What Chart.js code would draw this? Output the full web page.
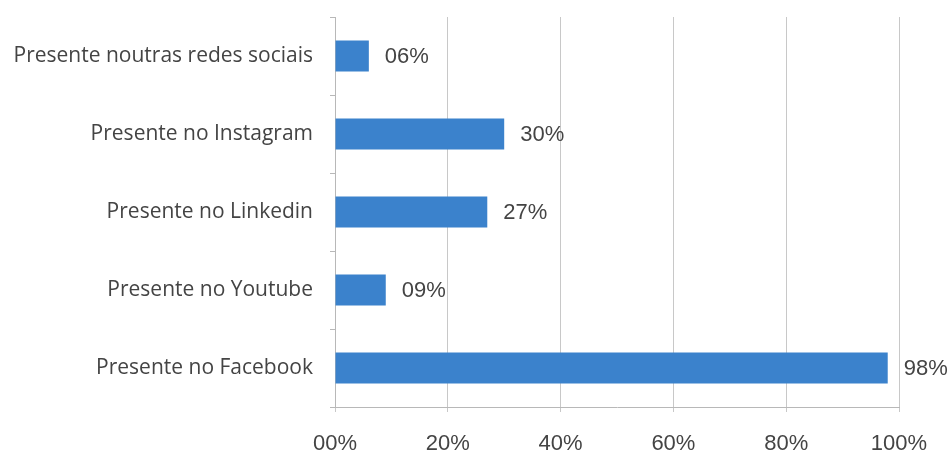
<!DOCTYPE html>
<html lang="pt">
<head>
<meta charset="UTF-8">
<title>Presença nas redes sociais</title>
<script src="https://cdn.jsdelivr.net/npm/chart.js"></script>
<style>
    body { margin: 0; background: #ffffff; }
    .wrap { width: 952px; height: 454px; position: relative; }
</style>
</head>
<body>
<div class="wrap"><canvas id="redesChart"></canvas></div>
<script>
// Dados (de cima para baixo)
const categorias = ["Presente noutras redes sociais", "Presente no Instagram", "Presente no Linkedin", "Presente no Youtube", "Presente no Facebook"];
const percentagens = [6, 30, 27, 9, 98];
const ticksX = [0, 20, 40, 60, 80, 100];

function fmtPct(v) {
    return (v < 10 ? '0' + v : '' + v) + '%';
}

// escreve o valor ao lado de cada barra
const rotulosBarras = {
    id: 'rotulosBarras',
    afterDatasetsDraw(chart) {
        const ctx = chart.ctx;
        const meta = chart.getDatasetMeta(0);
        ctx.save();
        ctx.font = '22px "Liberation Sans", Arial, sans-serif';
        ctx.fillStyle = '#444444';
        ctx.textAlign = 'left';
        ctx.textBaseline = 'middle';
        meta.data.forEach((bar, i) => {
            ctx.fillText(fmtPct(percentagens[i]), bar.x + 16, bar.y + 1);
        });
        ctx.restore();
    }
};

const ctx = document.getElementById('redesChart').getContext('2d');
new Chart(ctx, {
    type: 'bar',
    data: {
        labels: categorias,
        datasets: [{
            data: percentagens,
            backgroundColor: '#3b82cc',
            borderWidth: 0,
            categoryPercentage: 1,
            barPercentage: 0.4
        }]
    },
    options: {
        indexAxis: 'y',
        responsive: true,
        maintainAspectRatio: false,
        animation: false,
        layout: { padding: { top: 17, right: 53, bottom: 0, left: 0 } },
        plugins: {
            legend: { display: false },
            tooltip: { enabled: false }
        },
        scales: {
            x: {
                min: 0,
                max: 100,
                afterBuildTicks: (scale) => { scale.ticks = ticksX.map(v => ({ value: v })); },
                afterFit: (scale) => { scale.height = 47; },
                ticks: {
                    callback: (v) => fmtPct(v),
                    color: '#444444',
                    padding: 19,
                    font: { family: '"Liberation Sans", Arial, sans-serif', size: 22 }
                },
                grid: {
                    color: '#c8c8c8',
                    lineWidth: 1,
                    tickLength: 5
                },
                border: { color: '#b8b8b8' }
            },
            y: {
                afterFit: (scale) => {
                    scale.width = 335;
                    scale.paddingTop = 0;
                    scale.paddingBottom = 0;
                },
                ticks: {
                    color: '#444444',
                    padding: 17,
                    font: { family: '"Open Sans", sans-serif', size: 21 }
                },
                grid: {
                    drawOnChartArea: false,
                    color: '#b8b8b8',
                    tickLength: 5,
                    offset: true
                },
                border: { color: '#b8b8b8' }
            }
        }
    },
    plugins: [rotulosBarras]
});
</script>
</body>
</html>
